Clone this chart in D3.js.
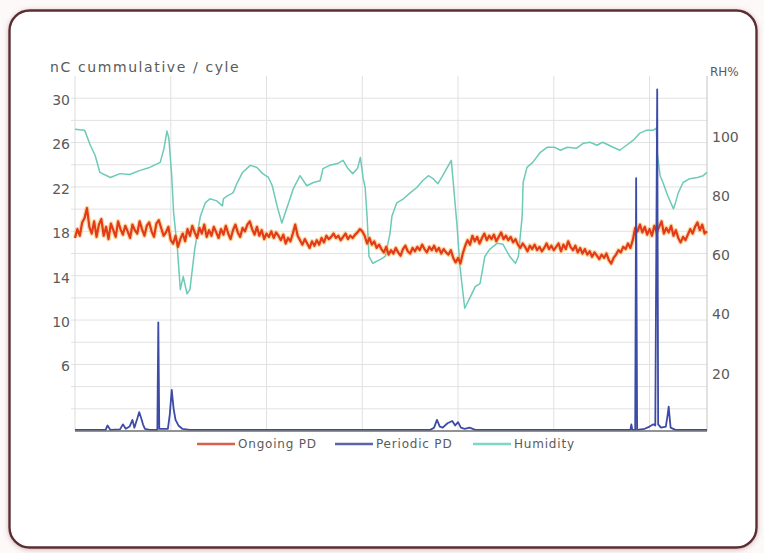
<!DOCTYPE html>
<html>
<head>
<meta charset="utf-8">
<script src="https://cdn.jsdelivr.net/npm/d3@7"></script>
<style>
  html, body { margin: 0; padding: 0; background: #ffffff; }
  svg { display: block; }
  text { font-family: "DejaVu Sans", sans-serif; fill: #5a5a5a; }
</style>
</head>
<body>
<svg id="chart" width="764" height="553"></svg>
<script>
// Ongoing PD (nC cumulative / cycle), one reading every 0.25 time units, t = 0..66
const ongoingPD = [
  17.4, 18.2, 17.6, 18.8,  19.2, 20.1, 18.4, 17.8,  18.9, 17.5, 18.6, 19.1,
  17.6, 18.4, 17.3, 18.7,  18.1, 17.5, 18.9, 18.2,  17.7, 18.5, 18.0, 17.4,
  18.6, 18.1, 17.8, 18.9,  18.2, 17.6, 18.5, 18.8,  18.0, 17.5, 18.7, 19.0,
  18.3, 17.6, 17.9, 18.4,  17.2, 16.9, 17.6, 16.6,  17.3, 17.8, 17.1, 18.2,
  17.6, 18.5, 17.9, 17.4,  18.3, 17.8, 18.6, 17.5,  18.1, 17.6, 18.4, 17.9,
  17.4, 18.2, 17.7, 18.5,  17.8, 17.3, 18.1, 18.6,  17.9, 17.5, 18.3, 18.0,
  18.6, 18.9, 18.2, 17.7,  18.4, 17.6, 18.1, 17.3,  17.8, 17.5, 18.0, 17.4,
  17.9, 17.6, 17.2, 17.7,  16.9, 17.4, 17.1, 17.8,  18.6, 17.6, 17.2, 16.8,
  17.3, 16.9, 16.5, 17.1,  16.7, 17.2, 16.8, 17.4,  17.0, 17.6, 17.3, 17.5,
  17.8, 17.4, 17.6, 17.2,  17.5, 17.8, 17.3, 17.6,  17.4, 17.7, 17.9, 18.2,
  18.0, 17.6, 16.9, 17.4,  16.8, 17.1, 16.5, 16.8,  16.4, 16.1, 16.6, 15.9,
  16.3, 16.0, 16.5, 16.1,  15.8, 16.4, 16.7, 16.2,  16.0, 16.5, 16.2, 16.6,
  16.3, 16.8, 16.4, 16.1,  16.6, 16.3, 16.7, 16.2,  16.5, 16.0, 16.4, 16.1,
  15.9, 16.3, 15.6, 15.2,  15.6, 15.1, 16.0, 16.7,  17.2, 16.8, 17.6, 17.1,
  17.5, 16.9, 17.4, 17.8,  17.2, 17.6, 17.3, 17.7,  17.1, 17.5, 17.9, 17.3,
  17.6, 17.2, 17.5, 17.0,  17.3, 16.8, 16.5, 16.9,  16.6, 16.2, 16.7, 16.4,
  16.8, 16.3, 16.6, 16.2,  16.5, 16.9, 16.4, 16.7,  16.3, 16.6, 16.9, 16.2,
  16.8, 16.4, 17.1, 16.6,  16.3, 16.7, 16.1, 16.5,  16.0, 16.4, 15.9, 16.2,
  15.7, 16.1, 15.8, 15.5,  15.9, 15.6, 16.0, 15.4,  15.1, 15.6, 15.9, 16.3,
  16.1, 16.6, 16.4, 16.9,  16.5, 17.2, 18.3, 18.0,  18.6, 17.9, 18.4, 17.7,
  18.2, 17.6, 18.5, 17.9,  18.4, 18.9, 17.8, 18.3,  17.9, 18.5, 17.6, 18.1,
  17.4, 17.0, 17.5, 17.2,  17.7, 18.2, 17.8, 18.4,  18.8, 18.1, 18.6, 17.8,
  18.0
];
const ongoingStep = 0.25;

// Periodic PD (nC cumulative / cycle) as [time, value]
const periodicPD = [
  [0, 0.1], [2.6, 0.1], [3.2, 0.1], [3.4, 0.5], [3.7, 0.1], [4.7, 0.15], [5.0, 0.6],
  [5.3, 0.2], [5.7, 0.4], [6.0, 1.0], [6.2, 0.3], [6.5, 1.1], [6.7, 1.7], [6.9, 1.2],
  [7.1, 0.6], [7.3, 0.2], [7.8, 0.1], [8.6, 0.1], [8.7, 9.8], [8.8, 0.2], [9.7, 0.2],
  [9.9, 1.5], [10.1, 3.7], [10.3, 2.0], [10.5, 1.0], [10.8, 0.5], [11.2, 0.2],
  [12.0, 0.1], [20.0, 0.1], [30.0, 0.1], [37.1, 0.1], [37.5, 0.3], [37.8, 1.0],
  [38.1, 0.4], [38.4, 0.3], [38.9, 0.7], [39.4, 0.9], [39.7, 0.5], [40.0, 0.8],
  [40.3, 0.3], [40.7, 0.2], [41.2, 0.3], [41.8, 0.1], [50.0, 0.1], [58.0, 0.1],
  [58.1, 0.6], [58.2, 0.1], [58.5, 0.1], [58.6, 22.8], [58.7, 0.1], [59.5, 0.2],
  [60.0, 0.4], [60.4, 0.6], [60.6, 0.5], [60.8, 30.8], [60.9, 0.6], [61.2, 0.3],
  [61.7, 0.4], [61.9, 1.5], [62.0, 2.2], [62.1, 1.2], [62.2, 0.3], [62.7, 0.1],
  [66.0, 0.1]
];

// Relative humidity (RH%) as [time, value]
const humidity = [
  [0, 102], [1.0, 101.7], [1.6, 96.6], [2.1, 93.2], [2.6, 87.4], [3.7, 85.7], [4.7, 87.0],
  [5.7, 86.7], [6.8, 88.1], [7.8, 89.1], [8.9, 90.8], [9.3, 95.6], [9.6, 101.4], [9.8, 99.0],
  [10.1, 86.3], [10.3, 73.7], [10.7, 61.4], [11.0, 47.8], [11.3, 52.2], [11.7, 46.4],
  [12.0, 47.8], [12.5, 61.4], [13.1, 72.7], [13.6, 77.1], [14.1, 78.5], [14.8, 77.8],
  [15.4, 76.1], [15.5, 78.5], [15.9, 79.5], [16.5, 80.5], [16.9, 83.6], [17.5, 87.4],
  [18.3, 89.8], [19.0, 89.1], [19.6, 87.0], [20.2, 85.7], [20.6, 82.9], [21.1, 76.1],
  [21.6, 70.3], [22.1, 75.1], [22.8, 81.9], [23.5, 86.3], [24.2, 82.9], [24.9, 84.0],
  [25.6, 84.6], [25.9, 88.7], [26.6, 89.8], [27.4, 90.4], [28.0, 91.5], [28.5, 88.7],
  [29.0, 87.0], [29.5, 88.7], [29.8, 92.5], [30.1, 85.3], [30.3, 82.3], [30.5, 72.7],
  [30.7, 59.0], [31.1, 56.7], [31.9, 58.0], [32.4, 59.0], [32.9, 66.9], [33.1, 72.7],
  [33.6, 77.1], [34.3, 78.5], [35.0, 80.5], [35.7, 82.3], [36.3, 84.6], [36.9, 86.3],
  [37.4, 85.3], [37.9, 83.6], [38.4, 86.3], [39.0, 89.8], [39.3, 91.5], [39.5, 84.0],
  [39.9, 69.3], [40.2, 55.6], [40.7, 41.5], [41.3, 45.4], [41.8, 48.8], [42.3, 49.8],
  [42.8, 59.0], [43.3, 61.4], [44.1, 63.5], [44.7, 63.1], [45.4, 59.0], [46.0, 56.7],
  [46.3, 59.0], [46.7, 72.7], [46.8, 84.0], [47.2, 89.1], [47.8, 90.8], [48.6, 94.2],
  [49.3, 95.9], [50.1, 95.9], [50.7, 94.9], [51.4, 95.9], [52.4, 95.6], [53.1, 97.3],
  [53.8, 97.6], [54.5, 96.6], [55.1, 97.6], [56.2, 95.9], [56.9, 94.9], [57.6, 96.6],
  [58.3, 98.3], [59.0, 100.7], [59.7, 101.7], [60.4, 101.7], [60.7, 102.4], [60.8, 94.2],
  [61.1, 86.3], [61.4, 84.0], [61.9, 79.5], [62.5, 75.1], [62.7, 77.1], [63.0, 80.5],
  [63.5, 84.0], [64.2, 85.3], [65.0, 85.7], [65.6, 86.3], [66.0, 87.4]
];

const leftTicks = [6, 10, 14, 18, 22, 26, 30];
const rightTicks = [20, 40, 60, 80, 100];
const leftGrid = [2, 4, 6, 8, 10, 12, 14, 16, 18, 20, 22, 24, 26, 28, 30];
const timeGrid = [10, 20, 30, 40, 50, 60];
const leftTitle = "nC cummulative / cyle";
const rightTitle = "RH%";
const seriesNames = ["Ongoing PD", "Periodic PD", "Humidity"];
const seriesColors = ["#e3391d", "#3c4ba6", "#6ccab7"];
const legendColors = ["#d8604c", "#5865ad", "#7fd6c6"];

const svg = d3.select("#chart");
const W = 764, H = 553;
const plot = { left: 75, right: 707, top: 76, bottom: 431 };

const x = d3.scaleLinear().domain([0, 66]).range([plot.left, plot.right]);
const yL = d3.scaleLinear().domain([0, 32]).range([plot.bottom, plot.top]);
const yR = d3.scaleLinear().domain([0, 120]).range([plot.bottom, plot.top]);

// frame with soft shadow
const defs = svg.append("defs");
const sh = defs.append("filter").attr("id", "shadow")
  .attr("x", "-5%").attr("y", "-5%").attr("width", "110%").attr("height", "110%");
sh.append("feDropShadow").attr("dx", 0).attr("dy", 1).attr("stdDeviation", 2.5)
  .attr("flood-color", "#b07a7e").attr("flood-opacity", 0.55);

svg.append("rect").attr("width", W).attr("height", H).attr("fill", "#fdf9f9");
svg.append("rect")
  .attr("x", 9.5).attr("y", 10.5).attr("width", 747).attr("height", 537)
  .attr("rx", 20).attr("ry", 20)
  .attr("fill", "#ffffff").attr("stroke", "#5a2e33").attr("stroke-width", 2.4)
  .attr("filter", "url(#shadow)");

// grid
const grid = svg.append("g");
grid.selectAll("line.h").data(leftGrid).join("line")
  .attr("x1", plot.left - 4).attr("x2", plot.right)
  .attr("y1", d => yL(d)).attr("y2", d => yL(d))
  .attr("stroke", "#e2e2e2").attr("stroke-width", 1);
grid.selectAll("line.v").data(timeGrid).join("line")
  .attr("x1", d => x(d)).attr("x2", d => x(d))
  .attr("y1", plot.top).attr("y2", plot.bottom)
  .attr("stroke", "#e0e0e0").attr("stroke-width", 1);

// side axes lines
svg.append("line").attr("x1", plot.left).attr("x2", plot.left)
  .attr("y1", plot.top).attr("y2", plot.bottom).attr("stroke", "#dcdcdc");
svg.append("line").attr("x1", plot.right).attr("x2", plot.right)
  .attr("y1", plot.top).attr("y2", plot.bottom).attr("stroke", "#c4c4c4");

// axes labels
const axL = svg.append("g").attr("transform", `translate(${plot.left - 5},0)`)
  .call(d3.axisLeft(yL).tickValues(leftTicks).tickSize(0).tickPadding(0));
axL.select(".domain").remove();
axL.selectAll("text").attr("font-size", 14).attr("fill", "#606060")
  .attr("font-family", "DejaVu Sans").attr("dy", "0.45em");

const axR = svg.append("g").attr("transform", `translate(${plot.right + 5},0)`)
  .call(d3.axisRight(yR).tickValues(rightTicks).tickSize(0).tickPadding(0));
axR.select(".domain").remove();
axR.selectAll("text").attr("font-size", 14).attr("fill", "#606060")
  .attr("font-family", "DejaVu Sans").attr("dy", "0.45em");

svg.append("text").attr("x", 50).attr("y", 72).attr("font-size", 14)
  .attr("letter-spacing", 1.6).attr("fill", "#606060").text(leftTitle);
svg.append("text").attr("x", 710).attr("y", 76).attr("font-size", 12)
  .attr("fill", "#606060").text(rightTitle);

// series
const humLine = d3.line().x(d => x(d[0])).y(d => yR(d[1]));
svg.append("path").datum(humidity).attr("d", humLine)
  .attr("fill", "none").attr("stroke", seriesColors[2]).attr("stroke-width", 1.5)
  .attr("stroke-linejoin", "round");

const ongoingLine = d3.line().x((d, i) => x(i * ongoingStep)).y(d => yL(d));
svg.append("path").datum(ongoingPD).attr("d", ongoingLine)
  .attr("fill", "none").attr("stroke", "#f5b13a").attr("stroke-opacity", 0.5)
  .attr("stroke-width", 4.6).attr("stroke-linejoin", "round");
svg.append("path").datum(ongoingPD).attr("d", ongoingLine)
  .attr("fill", "none").attr("stroke", seriesColors[0]).attr("stroke-width", 2.2)
  .attr("stroke-linejoin", "round");

const perLine = d3.line().x(d => x(d[0])).y(d => yL(d[1]));
svg.append("path").datum(periodicPD).attr("d", perLine)
  .attr("fill", "none").attr("stroke", seriesColors[1]).attr("stroke-width", 1.8)
  .attr("stroke-linejoin", "round");

// x baseline
svg.append("line").attr("x1", plot.left).attr("x2", plot.right)
  .attr("y1", plot.bottom).attr("y2", plot.bottom)
  .attr("stroke", "#6f6f6f").attr("stroke-width", 1.5);

// legend
const legendX = [197, 335, 473];
const lg = svg.append("g");
seriesNames.forEach((name, i) => {
  lg.append("line").attr("x1", legendX[i]).attr("x2", legendX[i] + 38)
    .attr("y1", 444).attr("y2", 444)
    .attr("stroke", legendColors[i]).attr("stroke-width", 2.5);
  lg.append("text").attr("x", legendX[i] + 41).attr("y", 448)
    .attr("font-size", 12).attr("letter-spacing", 0.8).attr("fill", "#6a6a6a")
    .text(name);
});
</script>
</body>
</html>
